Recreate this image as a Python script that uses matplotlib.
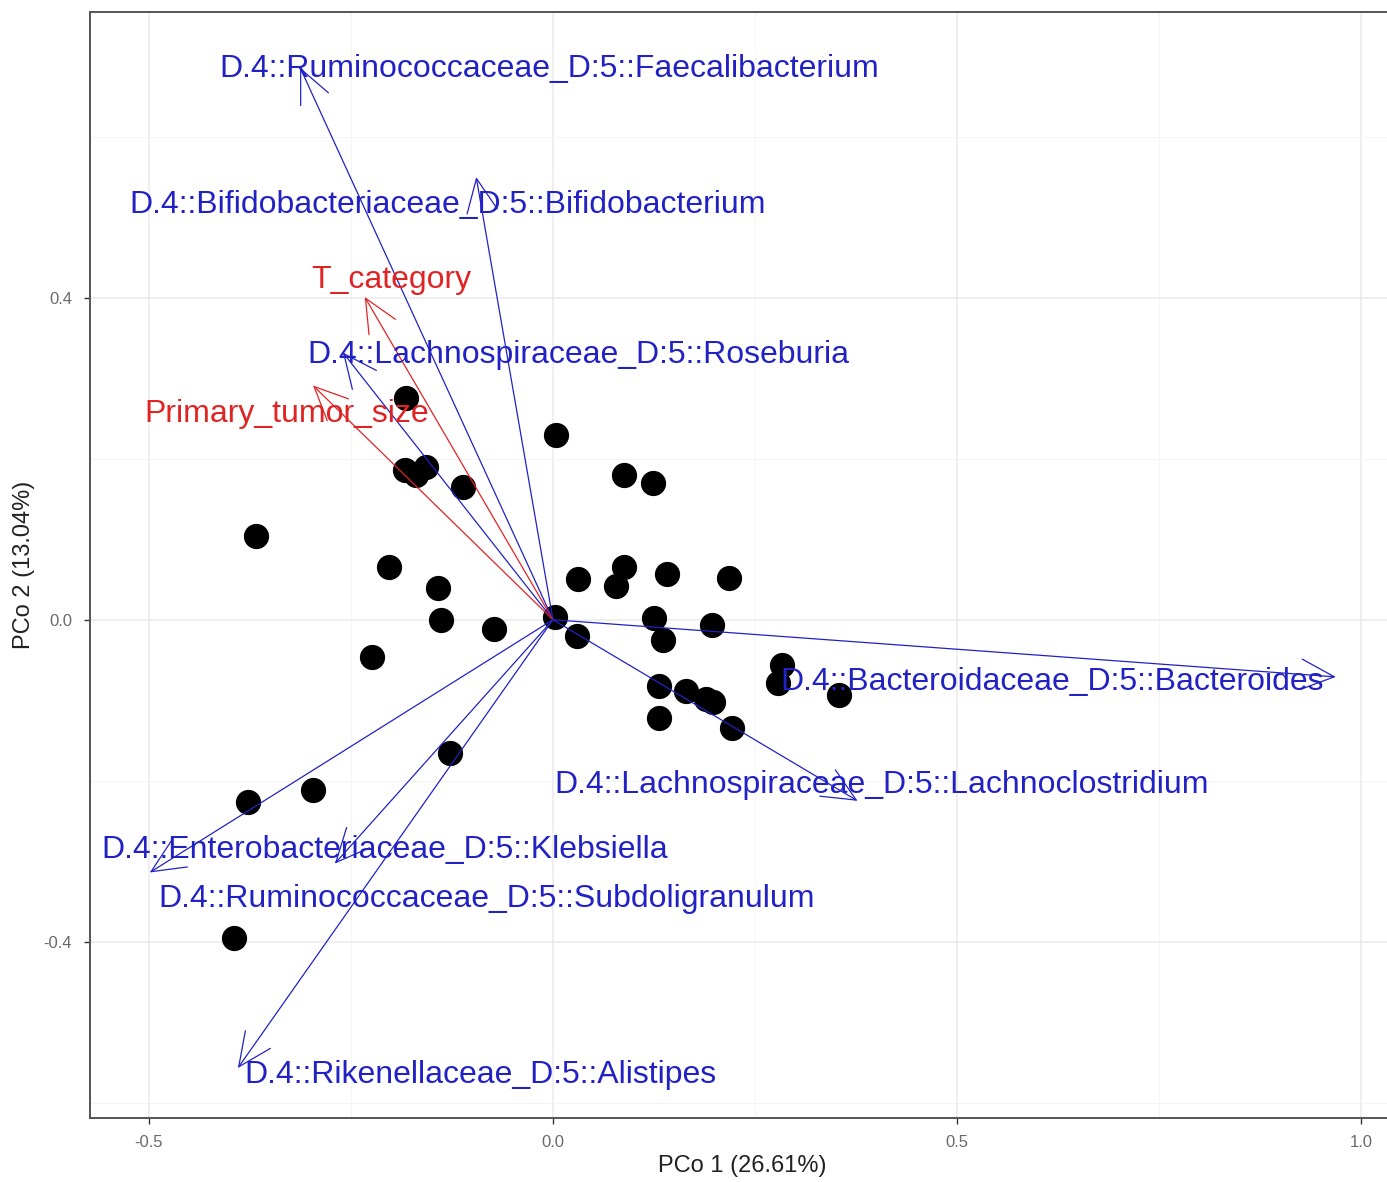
import matplotlib
matplotlib.use("Agg")
import matplotlib.pyplot as plt
import numpy as np

plt.rcParams['font.family'] = ['Liberation Sans', 'DejaVu Sans']

# ---- sample scores (PCo1, PCo2) ----
pc1 = [-0.182, 0.004, -0.183, -0.170, -0.157, -0.111, -0.368, 0.088, 0.124,
       -0.203, -0.142, -0.139, -0.073, -0.224, 0.002, 0.031, 0.078, 0.088,
       0.141, 0.218, 0.125, 0.030, 0.136, 0.197, 0.131, 0.165, 0.189, 0.198,
       0.131, 0.222, 0.283, 0.278, 0.354, -0.127, -0.297, -0.377, -0.395]
pc2 = [0.275, 0.229, 0.186, 0.180, 0.190, 0.165, 0.104, 0.180, 0.170,
       0.065, 0.040, 0.000, -0.012, -0.046, 0.004, 0.050, 0.042, 0.065,
       0.057, 0.052, 0.002, -0.020, -0.025, -0.006, -0.082, -0.088, -0.098,
       -0.102, -0.122, -0.134, -0.056, -0.078, -0.094, -0.166, -0.211,
       -0.227, -0.395]

# ---- biplot vectors ----
vec_names = ["D.4::Ruminococcaceae_D:5::Faecalibacterium",
             "D.4::Bifidobacteriaceae_D:5::Bifidobacterium",
             "T_category",
             "D.4::Lachnospiraceae_D:5::Roseburia",
             "Primary_tumor_size",
             "D.4::Bacteroidaceae_D:5::Bacteroides",
             "D.4::Lachnospiraceae_D:5::Lachnoclostridium",
             "D.4::Enterobacteriaceae_D:5::Klebsiella",
             "D.4::Ruminococcaceae_D:5::Subdoligranulum",
             "D.4::Rikenellaceae_D:5::Alistipes"]
vec_x = [-0.313, -0.095, -0.233, -0.260, -0.297, 0.969, 0.377, -0.499, -0.270, -0.390]
vec_y = [0.686, 0.550, 0.401, 0.332, 0.291, -0.071, -0.225, -0.314, -0.303, -0.557]
vec_type = ["taxon", "taxon", "metadata", "taxon", "metadata",
            "taxon", "taxon", "taxon", "taxon", "taxon"]

# label anchor (centre) positions, as placed in the original
lab_x = [-0.004, -0.130, -0.200, 0.032, -0.330, 0.618, 0.407, -0.208, -0.082, -0.090]
lab_y = [0.684, 0.515, 0.422, 0.329, 0.256, -0.077, -0.205, -0.286, -0.347, -0.565]

colors = {"taxon": "#2222C4", "metadata": "#E02424"}

W, H = 1387, 1182
fig = plt.figure(figsize=(W / 100, H / 100), dpi=100)
left, right, top, bottom = 90, 1394, 12, 1118
ax = fig.add_axes([left / W, 1 - bottom / H, (right - left) / W, (bottom - top) / H])

ax.set_xlim(-0.573, 1.041)
ax.set_ylim(-0.619, 0.755)

ax.set_xticks([-0.5, 0.0, 0.5, 1.0])
ax.set_xticklabels(["-0.5", "0.0", "0.5", "1.0"])
ax.set_yticks([-0.4, 0.0, 0.4])
ax.set_yticklabels(["-0.4", "0.0", "0.4"])
ax.set_xticks([-0.25, 0.25, 0.75], minor=True)
ax.set_yticks([-0.6, -0.2, 0.2, 0.6], minor=True)
ax.grid(True, which='major', color='#EBEBEB', linewidth=1.1)
ax.grid(True, which='minor', color='#F2F2F2', linewidth=0.6)
ax.set_axisbelow(True)
ax.tick_params(which='major', length=4, width=1, color='#333333',
               labelsize=12, labelcolor='#6A6A6A')
ax.tick_params(axis='x', which='major', pad=8)
ax.tick_params(axis='y', which='major', pad=9)
ax.tick_params(which='minor', length=0)
for s in ax.spines.values():
    s.set_color('#555555')
    s.set_linewidth(1.4)

ax.set_xlabel("PCo 1 (26.61%)", fontsize=17, color='#222222', labelpad=4)
ax.set_ylabel("PCo 2 (13.04%)", fontsize=17, color='#222222', labelpad=6)

ax.scatter(pc1, pc2, s=330, color='black', zorder=3, linewidths=0)

for nm, vx, vy, vt, lx, ly in zip(vec_names, vec_x, vec_y, vec_type, lab_x, lab_y):
    c = colors[vt]
    ax.annotate("", xy=(vx, vy), xytext=(0, 0),
                arrowprops=dict(arrowstyle="->,head_length=1.2,head_width=0.55",
                                mutation_scale=20, color=c, lw=0.9,
                                shrinkA=0, shrinkB=0), zorder=4)
    ax.text(lx, ly, nm, color=c, fontsize=23, ha='center', va='center', zorder=5)

fig.savefig("out.png", dpi=100)
